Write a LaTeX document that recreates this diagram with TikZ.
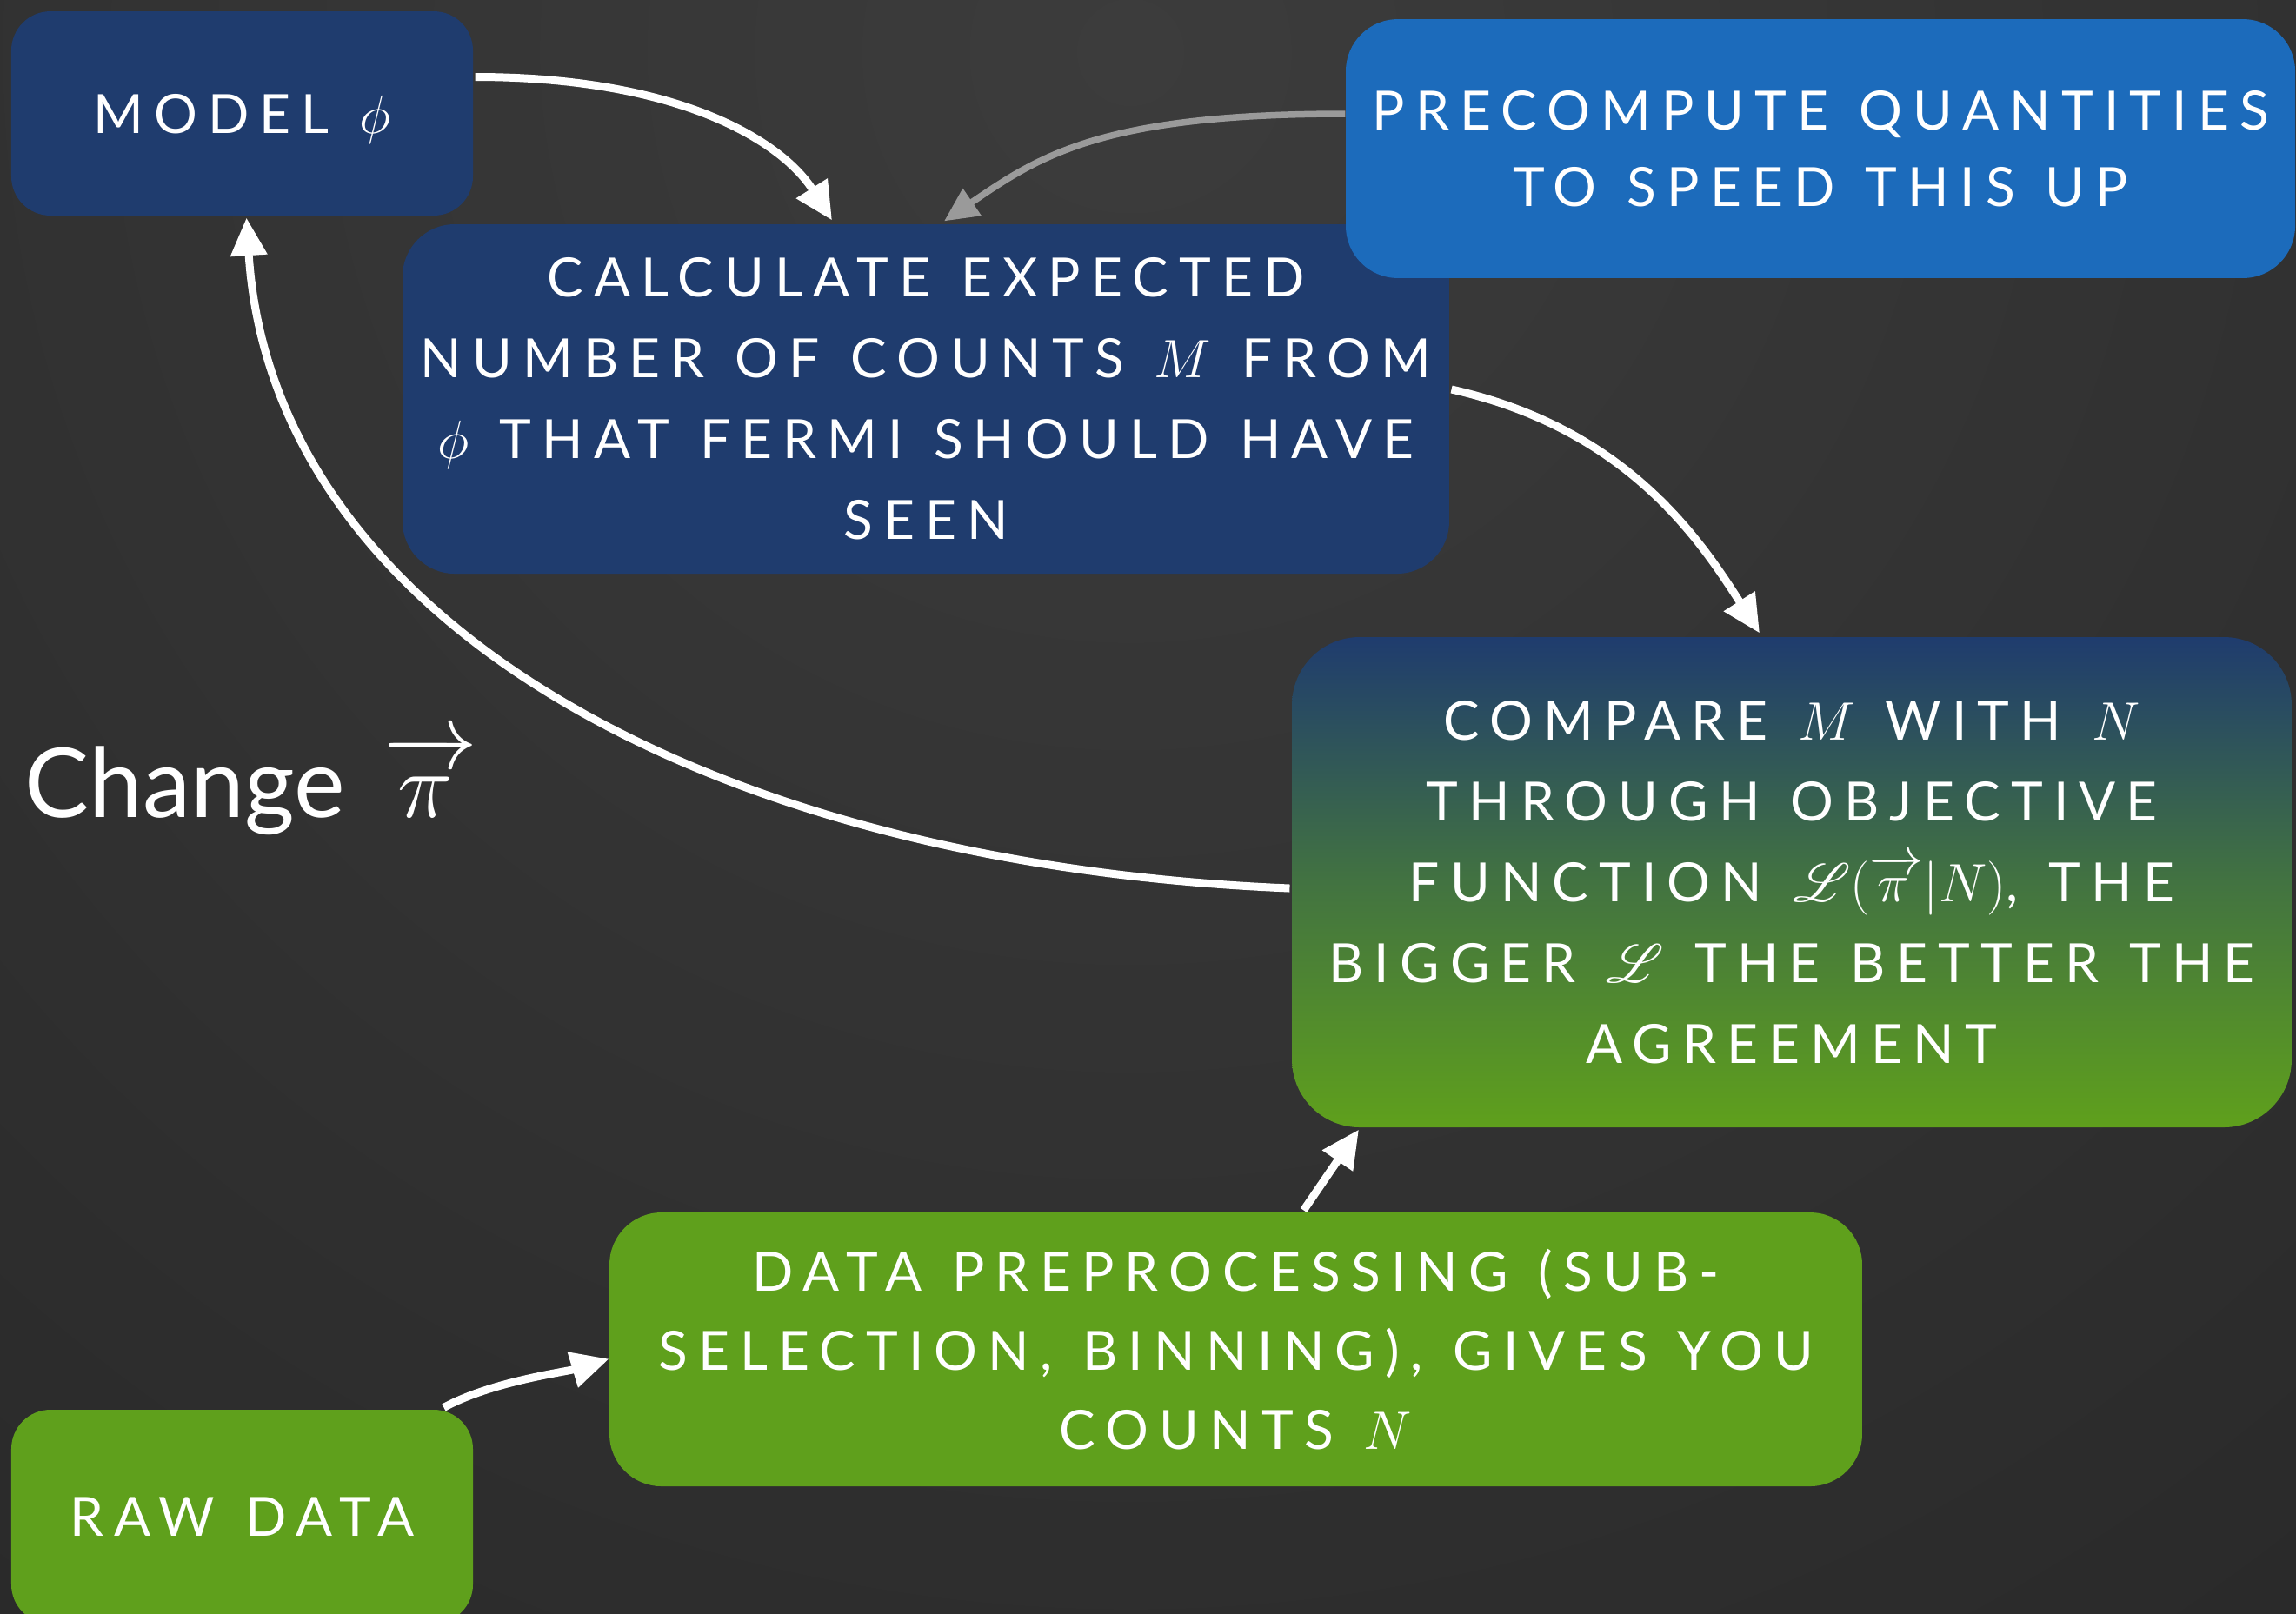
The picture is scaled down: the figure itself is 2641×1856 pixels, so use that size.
\documentclass[tikz,border=0pt]{standalone}
\usepackage{mathrsfs}
\usepackage{graphicx}
\usepackage{fontspec}
\setmainfont{Lato}
\newfontfamily\boxfont[LetterSpace=19.5,WordSpace=1.25]{Lato}
\usetikzlibrary{arrows.meta,calc}
\definecolor{navy}{HTML}{1F3C6E}
\definecolor{skyblue}{HTML}{1C6BBB}
\definecolor{leaf}{HTML}{5FA01C}
\definecolor{bgdark}{HTML}{1A1A1A}
\definecolor{bglight}{HTML}{3C3C3C}
\definecolor{arrowgray}{HTML}{9A9A9A}
\newcommand{\vecpi}{\overrightarrow{\vphantom{\rule{0pt}{0.55em}}\mkern1mu\pi\mkern3mu}}
\begin{document}
\begin{tikzpicture}[x=0.33333pt,y=-0.33333pt,
  box/.style={rectangle, inner sep=0pt, align=center, text=white,
    font=\boxfont\fontsize{20.74}{31}\selectfont},
  smallbox/.style={box, rounded corners=15pt, minimum width=177pt,
    text height=15pt, text depth=0pt},
  wire/.style={draw=white, line width=3pt,
    -{Triangle[length=14.5pt,width=13.5pt]}},
  graywire/.style={draw=arrowgray, line width=2.5pt,
    -{Triangle[length=13pt,width=12pt]}}]
% background
\fill[bgdark] (0,0) rectangle (2641,1856);
\begin{scope}
\clip (0,0) rectangle (2641,1856);
\shade[inner color=bglight, outer color=bgdark] (1300,60) circle (4200);
\end{scope}
\useasboundingbox (0,0) rectangle (2641,1856);

% boxes
\node[smallbox, fill=navy, minimum height=78.3pt] (model) at (278.5,130.5) {MODEL $\phi$};
\node[box, fill=navy, rounded corners=20pt, minimum width=401.3pt, minimum height=134pt] (calc) at (1065,459)
  {CALCULATE EXPECTED\\NUMBER OF COUNTS $M$ FROM\\$\phi$ THAT FERMI SHOULD HAVE\\SEEN};
\node[box, fill=skyblue, rounded corners=20pt, minimum width=364pt, minimum height=99.3pt,
  font=\boxfont\fontsize{20.74}{29.3}\selectfont] (pre) at (2094,171)
  {PRECOMPUTE QUANTITIES\\TO SPEED THIS UP};
\node[box, top color=navy, bottom color=leaf, middle color=navy!45!leaf, rounded corners=26pt,
  minimum width=383.3pt, minimum height=188pt] (cmp) at (2061,1015)
  {COMPARE $M$ WITH $N$\\THROUGH OBJECTIVE\\FUNCTION $\mathscr{L}(\vecpi|N)$, THE\\BIGGER $\mathscr{L}$ THE BETTER THE\\AGREEMENT};
\node[box, fill=leaf, rounded corners=20pt, minimum width=480.3pt, minimum height=105pt,
  font=\boxfont\fontsize{20.74}{30.3}\selectfont] (data) at (1421.5,1552.5)
  {DATA PREPROCESSING (SUB-\\SELECTION, BINNING), GIVES YOU\\COUNTS $N$};
\node[smallbox, fill=leaf, minimum height=82pt] (raw) at (278.5,1745) {RAW DATA};

\node[anchor=base west, text=white, inner sep=0pt, font=\fontsize{37}{40}\selectfont] (change) at (28,940)
  {Change\hspace{0.4em}{\fontsize{24.88}{30}\selectfont\scalebox{1.447}{$\vecpi$}}};

% connectors
\draw[wire] ($(model.east)+(2,-42)$) .. controls +(236,0) and +(-57,-90) .. ($(calc.north)+(-108,-4)$);
\draw[graywire] ($(pre.west)+(0,-40)$) .. controls +(-280,0) and +(110,-75) .. ($(calc.north)+(21,-3)$);
\draw[wire] ($(calc.east)+(2,-11)$) .. controls +(200,45) and +(-70,-110) .. ($(cmp.north)+(-37,-4)$);
\draw[wire] ($(cmp.west)+(-2,7)$) .. controls +(-678,-28) and +(29,459) .. ($(model.south)+(5,2)$);
\draw[wire] ($(data.north)+(78,-2)$) -- ($(cmp.south)+(-498,2)$);
\draw[wire] ($(raw.north)+(232,-2)$) .. controls +(55,-30) and +(-50,15) .. ($(data.west)+(0,11)$);
\end{tikzpicture}
\end{document}
